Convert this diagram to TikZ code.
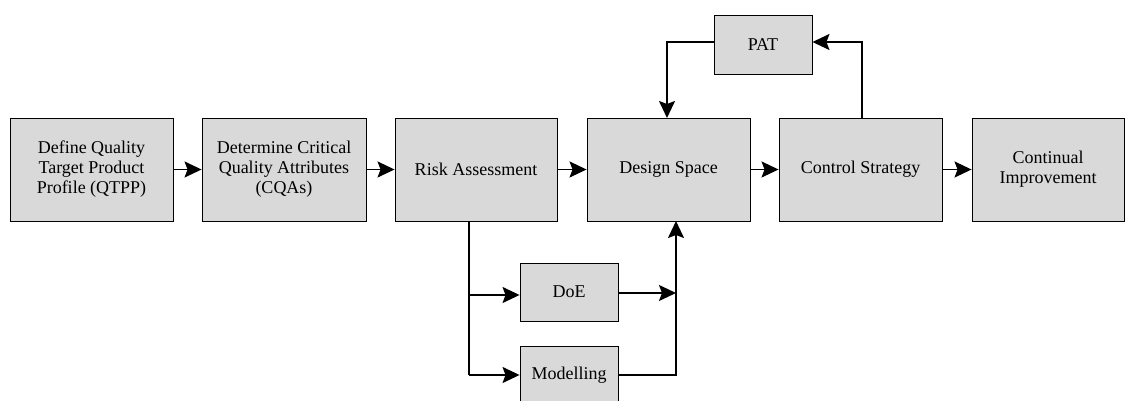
\documentclass[tikz,border=0pt]{standalone}
\usepackage{fontspec}
\setmainfont{Liberation Serif}
\usetikzlibrary{arrows.meta}
\definecolor{boxgray}{HTML}{D9D9D9}
\tikzset{
  box/.style={draw=black, fill=boxgray, line width=0.9pt, align=center,
    font=\fontsize{18}{20}\selectfont, inner sep=0pt},
  conn/.style={line width=1.7pt, -{Stealth[length=17pt,width=16pt,inset=3pt]}},
  plain/.style={line width=1.7pt}
}
\begin{document}
\begin{tikzpicture}[x=1pt,y=-1pt]
\useasboundingbox (0,0) rectangle (1125,401);
\node[box, minimum width=163pt, minimum height=103pt] (qtpp) at (91.5,169.5) {Define Quality\\Target Product\\Profile (QTPP)};
\node[box, minimum width=164pt, minimum height=103pt] (cqa) at (284,169.5) {Determine Critical\\Quality Attributes\\(CQAs)};
\node[box, minimum width=162pt, minimum height=103pt] (risk) at (476,169.5) {Risk Assessment};
\node[box, minimum width=163pt, minimum height=103pt] (ds) at (668.5,169.5) {Design Space};
\node[box, minimum width=163pt, minimum height=103pt] (cs) at (860.5,169.5) {Control Strategy};
\node[box, minimum width=152pt, minimum height=103pt] (ci) at (1048,169.5) {Continual\\Improvement};
\node[box, minimum width=98pt, minimum height=59pt] (pat) at (763,44.5) {PAT};
\node[box, minimum width=98pt, minimum height=58pt] (doe) at (569,292) {DoE};
\node[box, minimum width=98pt, minimum height=58pt] (mod) at (569,375) {Modelling};
\coordinate (rb) at (469,221);
\coordinate (rdoe) at (469,295);
\coordinate (rmod) at (469,375);
\coordinate (jdoe) at (676,293);
\coordinate (jmod) at (676,375);
\coordinate (dsb) at (676,221);
\coordinate (patl) at (667,42);
\coordinate (dst) at (667,118);
\coordinate (cst) at (862,118);
\coordinate (patr) at (862,42);
\draw[conn] (qtpp.east) -- (cqa.west);
\draw[conn] (cqa.east) -- (risk.west);
\draw[conn] (risk.east) -- (ds.west);
\draw[conn] (ds.east) -- (cs.west);
\draw[conn] (cs.east) -- (ci.west);
\draw[plain] (rb) -- (rmod);
\draw[conn] (rdoe) -- (doe.west |- rdoe);
\draw[conn] (rmod) -- (mod.west);
\draw[conn] (doe.east |- jdoe) -- (jdoe);
\draw[conn] (mod.east) -- (jmod) -- (dsb);
\draw[conn] (pat.west |- patl) -- (patl) -- (dst);
\draw[conn] (cst) -- (patr) -- (pat.east |- patr);
\end{tikzpicture}
\end{document}
